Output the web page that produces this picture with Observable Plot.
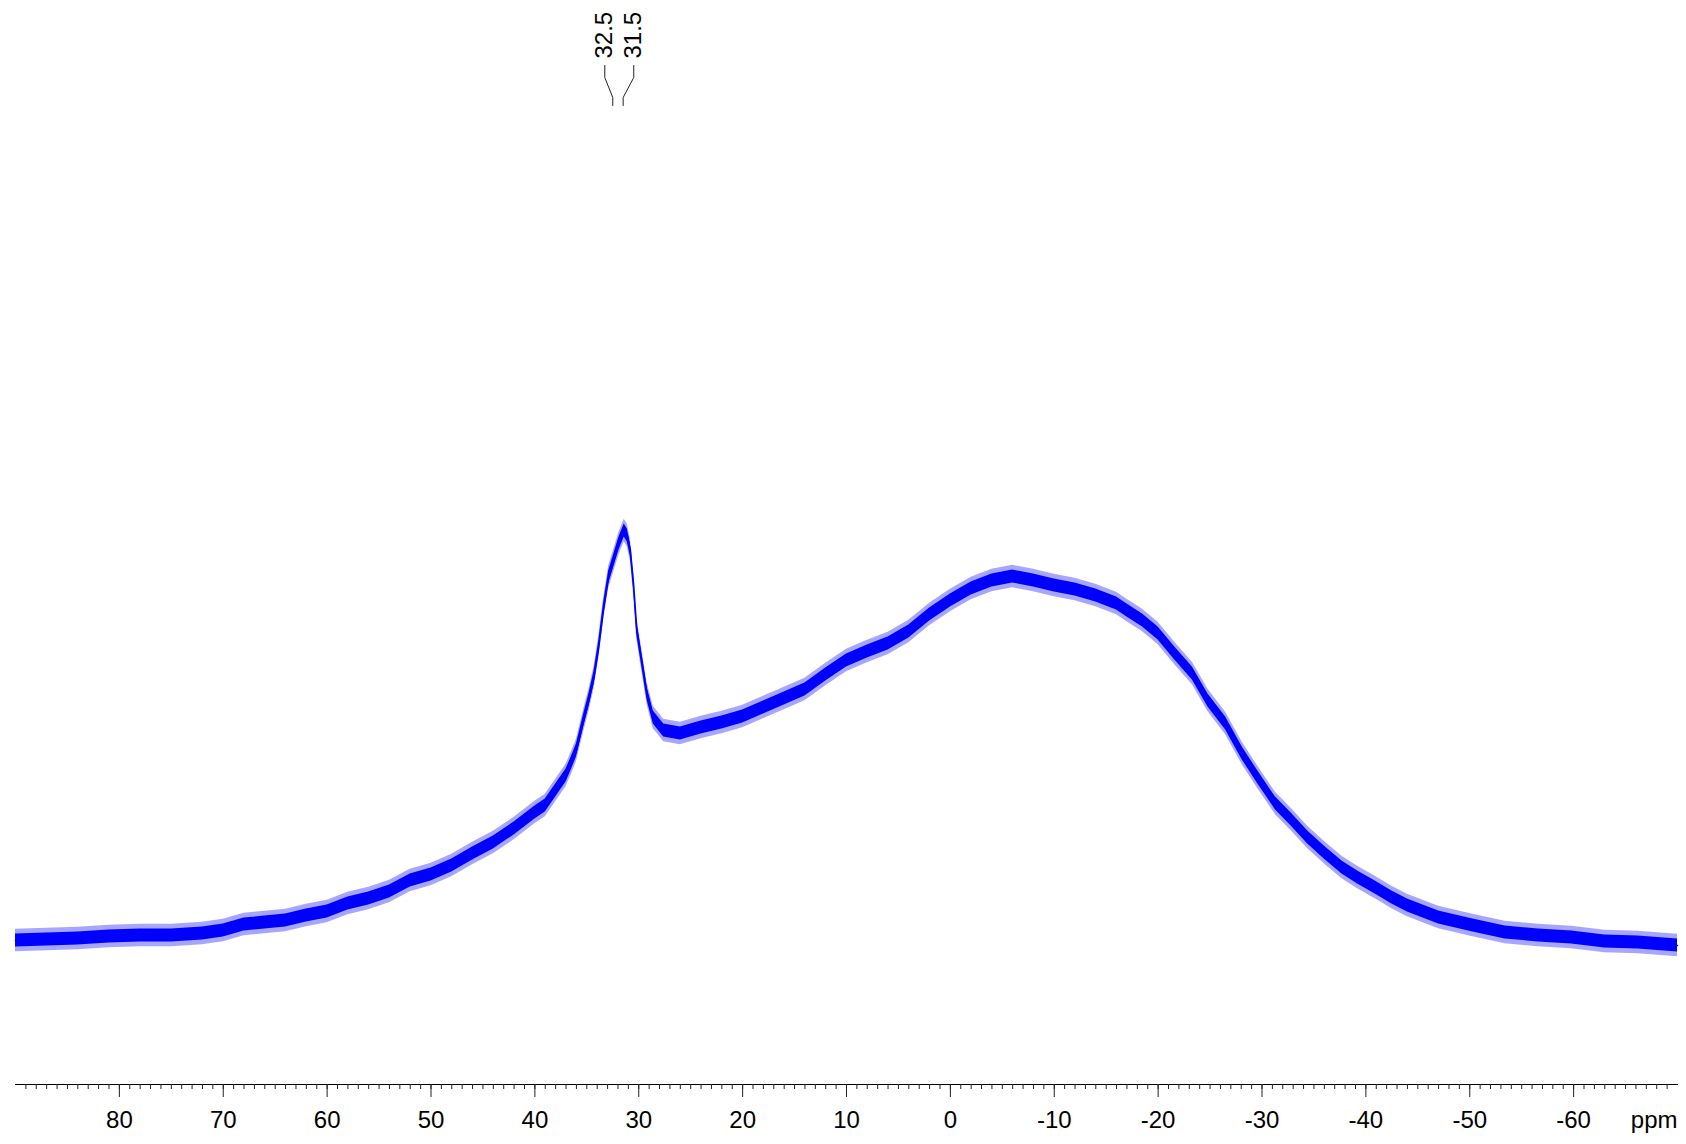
<!DOCTYPE html>
<html><head><meta charset="utf-8">
<script src="https://cdn.jsdelivr.net/npm/d3@7"></script>
<script src="https://cdn.jsdelivr.net/npm/@observablehq/plot@0.6"></script>
<style>html,body{margin:0;padding:0;background:#fff;} #chart svg{display:block;}</style>
</head><body><div id="chart"></div>
<script>
// Chemical shift (ppm) and intensity (arbitrary units)
const shift = [90, 87, 84, 81, 78, 75, 72, 70, 68, 66, 64, 62, 60, 58, 56, 54, 52, 50, 48, 46, 44, 42, 40, 39, 38, 37, 36.5, 36, 35.3, 34.8, 34.3, 33.85, 33.4, 32.9, 32.4, 31.9, 31.4, 31.1, 30.8, 30.5, 30.2, 29.7, 29.2, 28.6, 27.6, 26, 24, 22, 20, 18, 16, 14, 12, 10, 8, 6, 4, 2, 0, -2, -4, -6, -8, -10, -12, -14, -16, -17, -18.5, -20, -21.6, -23.3, -24.8, -26.5, -28.1, -29.6, -31.3, -32.9, -34.4, -36.1, -37.7, -39.2, -40.9, -42.5, -44, -47, -50.3, -53.4, -56.6, -59.8, -63, -66.2, -70];
const intensity = [1.25, 1.5, 1.75, 2.25, 2.5, 2.5, 3.0, 3.75, 5.25, 5.75, 6.25, 7.5, 8.5, 10.5, 11.75, 13.5, 16.25, 17.75, 20, 23, 25.75, 29.25, 33.25, 35, 38.75, 42.5, 45.5, 48.75, 56.25, 61.25, 67, 74.5, 83.75, 92, 96.25, 100.5, 103.75, 102.5, 98.75, 90.5, 79.5, 71.25, 63, 57, 53.75, 53, 54.5, 55.75, 57.25, 59.5, 61.75, 64, 67.75, 71.25, 73.5, 75.5, 78.5, 82.75, 86.25, 89.25, 91.25, 92.25, 91.25, 90, 89, 87.5, 85.5, 83.75, 81.25, 78, 73, 68, 61.25, 55.5, 48, 42, 35.5, 31.25, 27, 23, 19.5, 17, 14.5, 12, 10, 7, 5, 3.25, 2.5, 2, 1, 0.75, 0];
// Noise half-widths read from the baseline (dense core / spikes), intensity units
const noiseCore = 1.6;
const noiseSpike = 2.8;

// Peak annotations
const peakLabels = ["32.5", "31.5"];
const peakShifts = [32.5, 31.5];
const labelShifts = [33.27, 30.48];
const leaderLevels = [220, 217, 212, 210];
const labelLevel = 221.75;

// Axis ticks
const majorTicks = [80, 70, 60, 50, 40, 30, 20, 10, 0, -10, -20, -30, -40, -50, -60];
const minorTicks = d3.range(89, -70, -1);
const axisUnit = "ppm";

const spectrum = shift.map((s, i) => ({s, v: intensity[i]}));
const leaders = peakShifts.flatMap((p, k) => [
  {x: labelShifts[k], y: leaderLevels[0], k},
  {x: labelShifts[k], y: leaderLevels[1], k},
  {x: p, y: leaderLevels[2], k},
  {x: p, y: leaderLevels[3], k}
]);
const labels = peakLabels.map((t, k) => ({t, x: labelShifts[k], y: labelLevel}));

const blue = "#0000ff";
const font = "Liberation Sans, Arial, Helvetica, sans-serif";

const chart = Plot.plot({
  width: 1686,
  height: 1144,
  marginLeft: 15,
  marginRight: 9,
  marginTop: 0,
  marginBottom: 60,
  style: {fontFamily: font, background: "#fff", color: "#000"},
  x: {domain: [90, -70], label: null},
  y: {domain: [0, 220], range: [945, 65], axis: null},
  marks: [
    Plot.areaY(spectrum, {x: "s", y1: d => d.v - noiseSpike, y2: d => d.v + noiseSpike, fill: blue, fillOpacity: 0.35}),
    Plot.areaY(spectrum, {x: "s", y1: d => d.v - noiseCore, y2: d => d.v + noiseCore, fill: blue}),
    Plot.line(spectrum, {x: "s", y: "v", stroke: blue, strokeWidth: 1.5}),
    Plot.line(leaders, {x: "x", y: "y", z: "k", stroke: "#222", strokeWidth: 1}),
    Plot.text(labels, {x: "x", y: "y", text: "t", rotate: -90, textAnchor: "start", fontSize: 24, fill: "#000"}),
    Plot.frame({anchor: "bottom", stroke: "#000"}),
    Plot.axisX(minorTicks, {tickSize: 5, tickFormat: () => "", label: null, stroke: "#222"}),
    Plot.axisX(majorTicks, {tickSize: 13, tickPadding: 13, fontSize: 24, tickFormat: d => String(d), label: null, stroke: "#222", fill: "#000"}),
    Plot.text([axisUnit], {frameAnchor: "bottom-right", dy: 26, lineAnchor: "top", textAnchor: "end", fontSize: 24, fill: "#000"})
  ]
});
document.getElementById("chart").appendChild(chart);
</script>
</body></html>
